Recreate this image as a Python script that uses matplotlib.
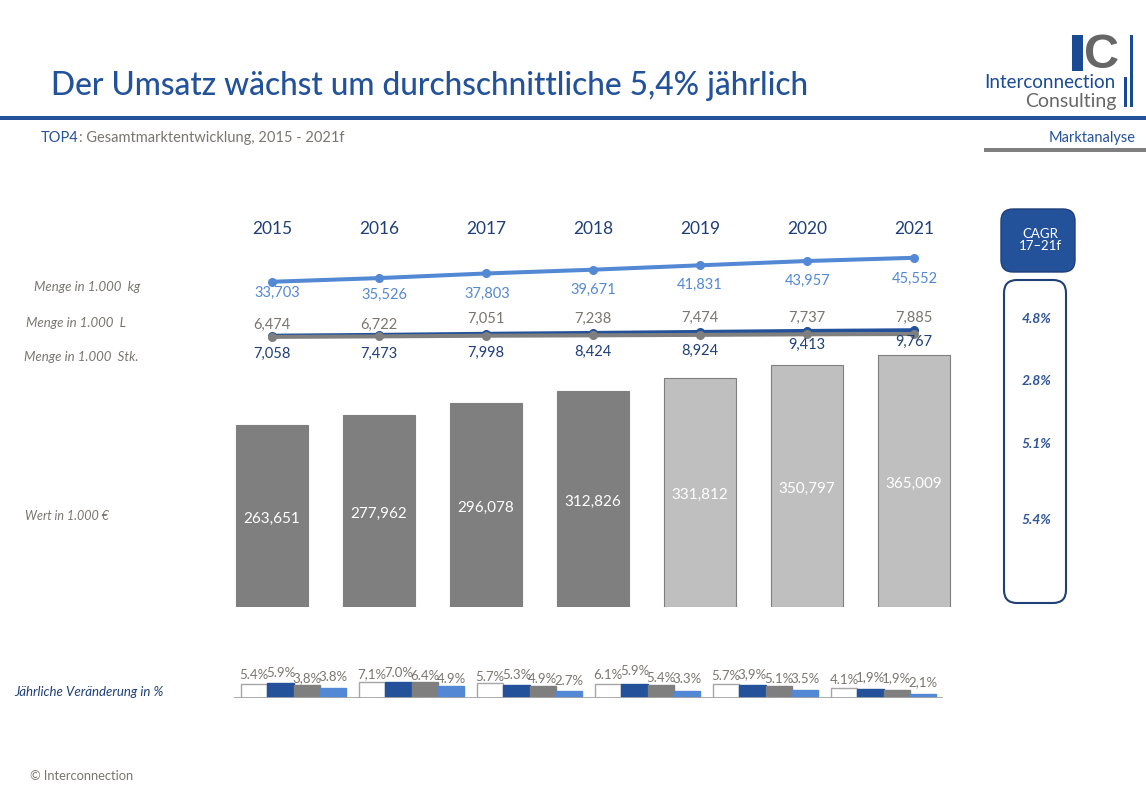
import matplotlib.pyplot as plt
from matplotlib.patches import FancyBboxPatch, Rectangle

WIDTH, HEIGHT = 1146, 793

BLUE = "#23529b"
NAVY = "#1f3f77"
LIGHT_BLUE = "#5388d4"
GRAY = "#7f7f7f"
TEXT_GRAY = "#7a7570"
PALE_GRAY = "#bfbfbf"

plt.rcParams["font.family"] = ["Lato", "DejaVu Sans"]

# Chart data
years = ["2015", "2016", "2017", "2018", "2019", "2020", "2021"]
kg_values = [33703, 35526, 37803, 39671, 41831, 43957, 45552]
liter_values = [6474, 6722, 7051, 7238, 7474, 7737, 7885]
piece_values = [7058, 7473, 7998, 8424, 8924, 9413, 9767]
euro_values = [263651, 277962, 296078, 312826, 331812, 350797, 365009]
cagr_labels = ["4.8%", "2.8%", "5.1%", "5.4%"]

# Small bars: heights, labels as printed
change_total = [5.8, 7.0, 6.2, 6.1, 5.8, 4.3]
change_piece = [6.4, 7.0, 5.5, 6.0, 5.5, 3.8]
change_liter = [5.5, 6.7, 5.0, 5.4, 5.1, 3.4]
change_kg = [4.1, 5.0, 3.0, 3.0, 3.4, 1.8]
total_labels = ["5.4%", "7,1%", "5.7%", "6.1%", "5.7%", "4.1%"]
piece_labels = ["5.9%", "7.0%", "5.3%", "5.9%", "3,9%", "1,9%"]
liter_labels = ["3,8%", "6.4%", "4.9%", "5.4%", "5.1%", "1,9%"]
kg_labels = ["3.8%", "4.9%", "2.7%", "3.3%", "3.5%", "2,1%"]

# Label nudges in pixels, the original labels were placed by hand
kg_nudge = [11, 17, 20, 20, 20, 20, 21]
kg_shift = [5, 5, 1, 0, 0, 1, 1]
liter_nudge = [-12, -12, -17, -16, -17, -16, -16]
piece_nudge = [18, 19, 19, 19, 19, 14, 12]
total_nudge = [-9, -7, -6, -9, -8, -8]
piece_bar_nudge = [-10, -9, -10, -13, -11, -12]
liter_bar_nudge = [-7, -6, -7, -7, -7, -12]
kg_bar_nudge = [-11, -7, -10, -12, -11, -12]


def axes_from_pixels(fig, left, top, right, bottom):
    return fig.add_axes(
        [
            left / WIDTH,
            1 - bottom / HEIGHT,
            (right - left) / WIDTH,
            (bottom - top) / HEIGHT,
        ]
    )


def label_point(ax, x, y, text, nudge, color, size, shift=0):
    # nudge and shift are in pixels, positive nudge means down
    ax.annotate(
        text,
        (x, y),
        xytext=(shift * 0.72, -nudge * 0.72),
        textcoords="offset points",
        ha="center",
        va="center",
        color=color,
        fontsize=size,
    )


def main():
    fig = plt.figure(figsize=(WIDTH / 100, HEIGHT / 100), dpi=100, facecolor="white")

    # Full figure layer in pixels for the slide furniture
    page = fig.add_axes([0, 0, 1, 1])
    page.set_xlim(0, WIDTH)
    page.set_ylim(HEIGHT, 0)
    page.axis("off")

    page.text(51, 86, "Der Umsatz wächst um durchschnittliche 5,4% jährlich",
              fontsize=22.8, color=BLUE, va="center", fontweight="medium")
    page.add_patch(Rectangle((0, 116), WIDTH, 4, color=BLUE, lw=0))
    page.add_patch(Rectangle((984, 148), 162, 4, color=GRAY, lw=0))

    top4 = page.text(41, 138, "TOP4", fontsize=10.5, color=BLUE, va="center")
    page.annotate(": Gesamtmarktentwicklung, 2015 - 2021f", xy=(1, 0.5), xycoords=top4,
                  fontsize=10.5, color=TEXT_GRAY, va="center")
    page.text(1136, 138, "Marktanalyse", fontsize=10.5, color=BLUE, ha="right", va="center")
    page.text(30, 776, "© Interconnection", fontsize=9.3, color=TEXT_GRAY, va="center")

    # Logo
    page.add_patch(Rectangle((1072, 35), 11, 36, color="#1a4a94", lw=0))
    page.text(1102, 56, "C", fontsize=35, fontweight="bold", color="#666666",
              family="Liberation Sans", ha="center", va="center")
    page.add_patch(Rectangle((1130, 35), 3, 72, color="#1a4a94", lw=0))
    page.add_patch(Rectangle((1124, 77), 3, 30, color="#1a4a94", lw=0))
    page.text(1116, 83, "Interconnection", fontsize=13.5, color="#1a4a94", ha="right", va="center")
    page.text(1116, 101, "Consulting", fontsize=14, color="#666666", ha="right", va="center")

    # Row labels
    row_labels = [
        (34, 287, "Menge in 1.000  kg", TEXT_GRAY, 9.5),
        (26, 323, "Menge in 1.000  L", TEXT_GRAY, 9.5),
        (24, 357, "Menge in 1.000  Stk.", TEXT_GRAY, 9.5),
        (25, 516, "Wert in 1.000 €", TEXT_GRAY, 9),
        (14, 692, "Jährliche Veränderung in %", NAVY, 9.5),
    ]
    for x, y, text, color, size in row_labels:
        page.text(x, y, text, fontsize=size, style="italic", color=color, va="center")

    # CAGR column
    page.add_patch(FancyBboxPatch((1010, 218), 56, 45, boxstyle="round,pad=9,rounding_size=12",
                                  fc=BLUE, ec=NAVY, lw=1))
    page.text(1040, 240, "CAGR\n17–21f", fontsize=9.5, color="white", ha="center", va="center",
              linespacing=0.9)
    page.add_patch(FancyBboxPatch((1014, 290), 42, 303, boxstyle="round,pad=10,rounding_size=13",
                                  fc="white", ec=NAVY, lw=1.5))
    for y, text in zip([319, 381, 444, 520], cagr_labels):
        page.text(1037, y, text, fontsize=10, style="italic", fontweight="bold",
                  color="#2f5597", ha="center", va="center")

    x_pos = range(len(years))

    # Value bars
    ax_bars = axes_from_pixels(fig, 218.5, 350, 967.5, 607)
    colors = [GRAY] * 4 + [PALE_GRAY] * 3
    edges = [GRAY] * 7
    ax_bars.bar(x_pos, euro_values, width=0.68, color=colors, edgecolor=edges, linewidth=0.8)
    ax_bars.set_xlim(-0.5, 6.5)
    ax_bars.set_ylim(0, 257 * 1450)
    ax_bars.axis("off")
    for x, value in zip(x_pos, euro_values):
        label_point(ax_bars, x, value / 2, f"{value:,}", 2.5, "white", 11)

    # Quantity lines share one scale
    ax_lines = axes_from_pixels(fig, 218.5, 250, 967.5, 350)
    ax_lines.plot(x_pos, kg_values, color=LIGHT_BLUE, lw=2.9, marker="o", ms=5.5)
    ax_lines.plot(x_pos, piece_values, color=BLUE, lw=2.9, marker="o", ms=5.5)
    ax_lines.plot(x_pos, liter_values, color=GRAY, lw=2.9, marker="o", ms=5.5)
    ax_lines.set_xlim(-0.5, 6.5)
    ax_lines.set_ylim(0, 100 * 494)
    ax_lines.axis("off")
    for i, x in enumerate(x_pos):
        label_point(ax_lines, x, kg_values[i], f"{kg_values[i]:,}", kg_nudge[i], LIGHT_BLUE, 10.5, kg_shift[i])
        label_point(ax_lines, x, liter_values[i], f"{liter_values[i]:,}", liter_nudge[i], TEXT_GRAY, 10.5)
        label_point(ax_lines, x, piece_values[i], f"{piece_values[i]:,}", piece_nudge[i], NAVY, 10.5)
        ax_lines.annotate(years[i], (x, 1), xycoords=("data", "axes fraction"), xytext=(0, 15),
                          textcoords="offset points", ha="center", va="center",
                          color=NAVY, fontsize=12.5)

    # Yearly change bars
    ax_change = axes_from_pixels(fig, 234, 650, 943, 698)
    bar_width = 0.223
    series = [
        (change_total, "white", "#a6a6a6", total_labels, total_nudge),
        (change_piece, BLUE, BLUE, piece_labels, piece_bar_nudge),
        (change_liter, GRAY, GRAY, liter_labels, liter_bar_nudge),
        (change_kg, LIGHT_BLUE, LIGHT_BLUE, kg_labels, kg_bar_nudge),
    ]
    for j, (values, face, edge, labels, nudges) in enumerate(series):
        for i, value in enumerate(values):
            x = i + (j - 1.5) * bar_width
            ax_change.bar(x, value, width=bar_width, color=face, edgecolor=edge, linewidth=1)
            label_point(ax_change, x, value, labels[i], nudges[i], TEXT_GRAY, 9.5)
    ax_change.set_xlim(-0.505, 5.503)
    ax_change.set_ylim(0, 48 / 2.35)
    ax_change.axis("off")
    ax_change.axhline(0, color="#a6a6a6", lw=2)

    fig.savefig("out.png", dpi=100, facecolor="white")


if __name__ == "__main__":
    main()
